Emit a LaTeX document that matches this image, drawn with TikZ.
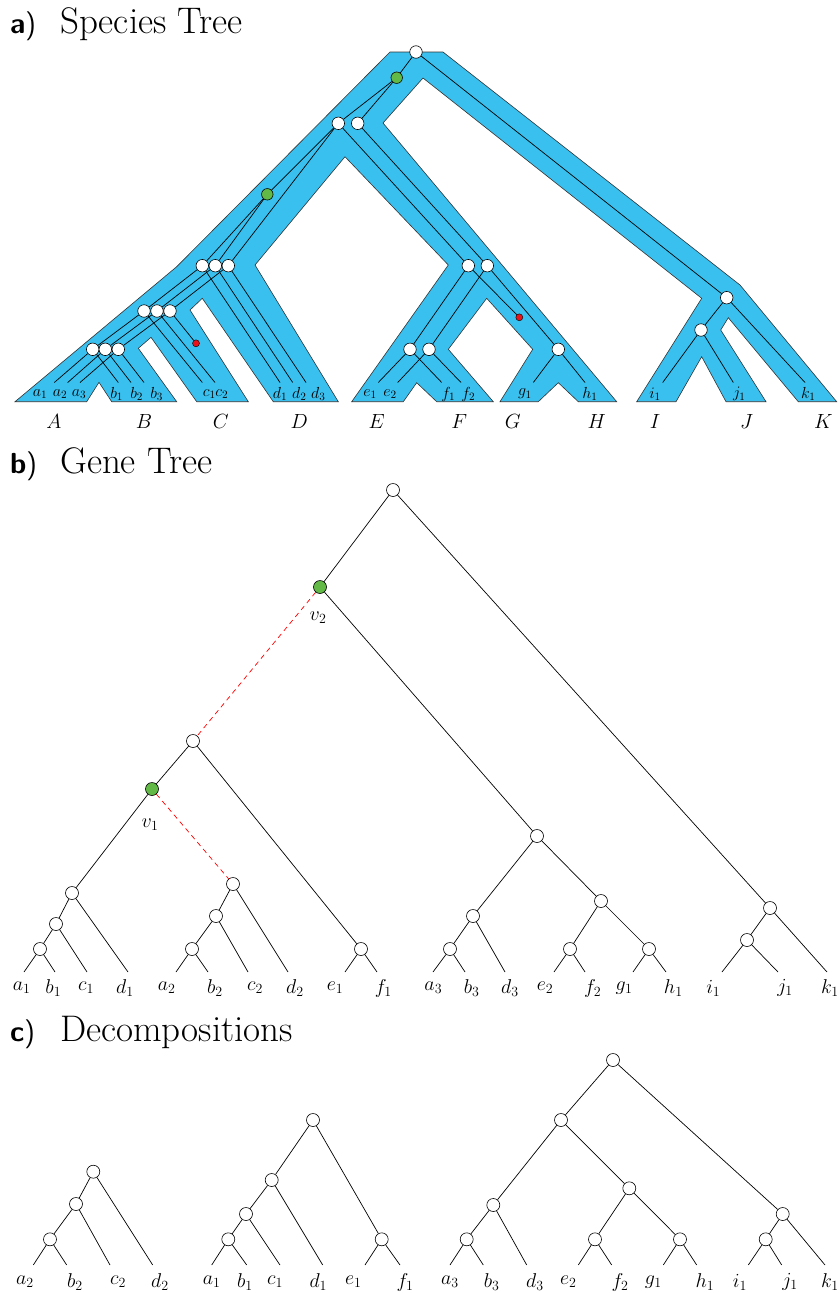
\RequirePackage{fix-cm}
\documentclass[tikz,border=0pt]{standalone}
\usepackage{tikz}
\definecolor{treeblue}{HTML}{3AC0EF}
\definecolor{dupgreen}{HTML}{62B946}
\definecolor{lossred}{HTML}{E8141B}
\tikzset{
  gnode/.style={draw, circle, fill=white, inner sep=0pt, minimum size=13pt, line width=0.6pt},
  snode/.style={gnode, minimum size=12.5pt},
  dupnode/.style={gnode, fill=dupgreen, minimum size=11.5pt},
  lossnode/.style={draw, circle, fill=lossred, inner sep=0pt, minimum size=7pt, line width=0.4pt},
  edge/.style={line width=0.7pt},
  xfer/.style={draw=red, dash pattern=on 5pt off 4pt, line width=0.7pt},
  leaf/.style={font=\fontsize{20}{24}\selectfont, inner sep=0pt},
  tip/.style={font=\fontsize{16}{19}\selectfont, inner sep=0pt},
  spec/.style={font=\fontsize{20.5}{24}\selectfont, inner sep=0pt},
  title/.style={anchor=base west, font=\fontsize{37}{44}\selectfont, inner sep=0pt},
  panel/.style={anchor=base west, font=\fontsize{29}{34}\selectfont\sffamily, inner sep=0pt}
}

\begin{document}
\begin{tikzpicture}[x=1pt, y=-1pt]
  \useasboundingbox (0,0) rectangle (838,1293);

  % titles
  \node[panel] (pa) at (10,33) {\textbf{a})};
  \node[title] (ta) at (60,33) {Species Tree};
  \node[panel] (pb) at (10,473) {\textbf{b})};
  \node[title] (tb) at (60,473) {Gene Tree};
  \node[panel] (pc) at (10,1041) {\textbf{c})};
  \node[title] (tc) at (60,1041) {Decompositions};

  % species tree tube
  \filldraw[fill=treeblue, draw=black!80, line width=0.6pt]
    (390,52) -- (443,52) -- (740,285) -- (836.7,401.7) -- (798.3,401.7) -- (728.3,317.7)
    -- (720.7,330) -- (766,401.7) -- (726,401.7) -- (701.7,356.7) -- (676,401.7)
    -- (636.7,401.7) -- (701.7,298.3) -- (423,78) -- (383,123) -- (616.7,401.7)
    -- (578.3,401.7) -- (558.3,382.7) -- (538.3,401.7) -- (500,401.7) -- (532.7,349.3)
    -- (486.7,298.3) -- (448.3,349.3) -- (493.3,401.7) -- (436.7,401.7) -- (416.7,382.7)
    -- (403.3,401.7) -- (351.7,401.7) -- (448.3,265) -- (345,156.7) -- (255,265)
    -- (338.3,401.7) -- (273.3,401.7) -- (202.3,298.3) -- (190,310) -- (248.3,401.7)
    -- (196.7,401.7) -- (151,337.3) -- (138.3,348.3) -- (176.7,401.7) -- (111.7,401.7)
    -- (99,382.3) -- (86.7,401.7) -- (15,401.7) -- (176.7,266.7) -- cycle;

  % species tree: gene nodes
  \node[snode] (sRoot) at (416,52) {};
  \node[dupnode] (sV2) at (396.7,77.7) {};
  \node[snode] (sX1) at (338.3,123.3) {};
  \node[snode] (sX2) at (357.7,123.3) {};
  \node[dupnode] (sV1) at (267.3,194.3) {};
  \node[snode] (sD1) at (202.3,265.7) {};
  \node[snode] (sD2) at (215.3,265.7) {};
  \node[snode] (sD3) at (228.3,265.7) {};
  \node[snode] (sC1) at (144,311) {};
  \node[snode] (sC2) at (157,311) {};
  \node[snode] (sC3) at (170,311) {};
  \node[snode] (sB1) at (92.7,349.3) {};
  \node[snode] (sB2) at (105.3,349.3) {};
  \node[snode] (sB3) at (118.3,349.3) {};
  \node[lossnode] (sLossC) at (196,343.3) {};
  \node[snode] (sE1) at (468.3,265.7) {};
  \node[snode] (sE2) at (487.3,265.7) {};
  \node[snode] (sF1) at (410,349.3) {};
  \node[snode] (sF2) at (429,349.3) {};
  \node[snode] (sGH) at (558.3,349.3) {};
  \node[lossnode] (sLossGH) at (519.3,317.3) {};
  \node[snode] (sK1) at (726.7,297.7) {};
  \node[snode] (sK2) at (701,330) {};

  \coordinate (sa1) at (54.3,382.5); \coordinate (sa2) at (67.7,382.5); \coordinate (sa3) at (80,382.5);
  \coordinate (sb1) at (118.3,382.5); \coordinate (sb2) at (131,382.5); \coordinate (sb3) at (144,382.5);
  \coordinate (sc1) at (202.3,382.5); \coordinate (sc2) at (215,382.5);
  \coordinate (sd1) at (280,382.5); \coordinate (sd2) at (292.7,382.5); \coordinate (sd3) at (306,382.5);
  \coordinate (se1) at (378.3,382.5); \coordinate (se2) at (397.7,382.5);
  \coordinate (sf1) at (441.7,382.5); \coordinate (sf2) at (461,382.5);
  \coordinate (sg1) at (533.3,382.5); \coordinate (sh1) at (585,382.5);
  \coordinate (si1) at (662.7,382.5); \coordinate (sj1) at (733.3,382.5); \coordinate (sk1) at (805,382.5);

  \draw[edge] (sRoot) -- (sV2);
  \draw[edge] (sRoot) -- (sK1);
  \draw[edge] (sK1) -- (sK2);
  \draw[edge] (sK1) -- (sk1);
  \draw[edge] (sK2) -- (si1);
  \draw[edge] (sK2) -- (sj1);
  \draw[edge] (sV2) -- (sX1);
  \draw[edge] (sV2) -- (sX2);
  \draw[edge] (sX1) -- (sV1);
  \draw[edge] (sX1) -- (sE1);
  \draw[edge] (sX1) -- (sD3);
  \draw[edge] (sX2) -- (sE2);
  \draw[edge] (sV1) -- (sD1);
  \draw[edge] (sV1) -- (sD2);
  \draw[edge] (sD1) -- (sC1);
  \draw[edge] (sD1) -- (sd1);
  \draw[edge] (sD2) -- (sC2);
  \draw[edge] (sD2) -- (sd2);
  \draw[edge] (sD3) -- (sC3);
  \draw[edge] (sD3) -- (sd3);
  \draw[edge] (sC1) -- (sB1);
  \draw[edge] (sC1) -- (sc1);
  \draw[edge] (sC2) -- (sB2);
  \draw[edge] (sC2) -- (sc2);
  \draw[edge] (sC3) -- (sB3);
  \draw[edge] (sC3) -- (sLossC);
  \draw[edge] (sB1) -- (sa1);
  \draw[edge] (sB1) -- (sb1);
  \draw[edge] (sB2) -- (sa2);
  \draw[edge] (sB2) -- (sb2);
  \draw[edge] (sB3) -- (sa3);
  \draw[edge] (sB3) -- (sb3);
  \draw[edge] (sE1) -- (sF1);
  \draw[edge] (sE1) -- (sLossGH);
  \draw[edge] (sE2) -- (sF2);
  \draw[edge] (sE2) -- (sGH);
  \draw[edge] (sF1) -- (se1);
  \draw[edge] (sF1) -- (sf1);
  \draw[edge] (sF2) -- (se2);
  \draw[edge] (sF2) -- (sf2);
  \draw[edge] (sGH) -- (sg1);
  \draw[edge] (sGH) -- (sh1);

  % tip labels
  \node[tip] (la1) at (40,394) {$a_1$};
  \node[tip] (la2) at (60,394) {$a_2$};
  \node[tip] (la3) at (79,394) {$a_3$};
  \node[tip] (lb1) at (116.7,394) {$b_1$};
  \node[tip] (lb2) at (136.7,394) {$b_2$};
  \node[tip] (lb3) at (156.7,394) {$b_3$};
  \node[tip] (lc1) at (209.3,394) {$c_1$};
  \node[tip] (lc2) at (221.7,394) {$c_2$};
  \node[tip] (ld1) at (280,394) {$d_1$};
  \node[tip] (ld2) at (299.3,394) {$d_2$};
  \node[tip] (ld3) at (318.3,394) {$d_3$};
  \node[tip] (le1) at (370,394) {$e_1$};
  \node[tip] (le2) at (390,394) {$e_2$};
  \node[tip] (lf1) at (448.3,394) {$f_1$};
  \node[tip] (lf2) at (468.3,394) {$f_2$};
  \node[tip] (lg1) at (525,394) {$g_1$};
  \node[tip] (lh1) at (590,394) {$h_1$};
  \node[tip] (li1) at (655,394) {$i_1$};
  \node[tip] (lj1) at (739.3,394) {$j_1$};
  \node[tip] (lk1) at (808.3,394) {$k_1$};

  % species names
  \node[spec] (spA) at (54,421.7) {$A$};
  \node[spec] (spB) at (144,421.7) {$B$};
  \node[spec] (spC) at (220.7,421.7) {$C$};
  \node[spec] (spD) at (299.3,421.7) {$D$};
  \node[spec] (spE) at (376.7,421.7) {$E$};
  \node[spec] (spF) at (459.3,421.7) {$F$};
  \node[spec] (spG) at (512.7,421.7) {$G$};
  \node[spec] (spH) at (596.7,421.7) {$H$};
  \node[spec] (spI) at (655,421.7) {$I$};
  \node[spec] (spJ) at (746.7,421.7) {$J$};
  \node[spec] (spK) at (823.3,421.7) {$K$};

  % gene tree
  \node[gnode] (gRoot) at (393,490) {};
  \node[dupnode, minimum size=13pt] (gV2) at (320,587) {};
  \node[gnode] (gN1) at (193,741) {};
  \node[dupnode, minimum size=13pt] (gV1) at (152,789) {};
  \node[gnode] (gN2) at (72,893) {};
  \node[gnode] (gN3) at (56,924) {};
  \node[gnode] (gN4) at (40,949) {};
  \node[gnode] (gN5) at (233,884) {};
  \node[gnode] (gN6) at (216,916) {};
  \node[gnode] (gN7) at (192,949) {};
  \node[gnode] (gN8) at (361,949) {};
  \node[gnode] (gN9) at (537,836) {};
  \node[gnode] (gN10) at (473,916) {};
  \node[gnode] (gN11) at (450,949) {};
  \node[gnode] (gN12) at (601,901) {};
  \node[gnode] (gN13) at (570,949) {};
  \node[gnode] (gN14) at (649,949) {};
  \node[gnode] (gN15) at (770,908) {};
  \node[gnode] (gN16) at (747,940) {};
  \node[leaf] (lv2) at (318,618) {$v_2$};
  \node[leaf] (lv1) at (150,825) {$v_1$};

  \coordinate (ga1) at (24,972); \coordinate (gb1) at (55,972); \coordinate (gc1) at (87,972); \coordinate (gd1) at (128,972);
  \coordinate (ga2) at (176,972); \coordinate (gb2) at (208,972); \coordinate (gc2) at (248,972); \coordinate (gd2) at (288,972);
  \coordinate (ge1) at (345,972); \coordinate (gf1) at (377,972);
  \coordinate (ga3) at (433,972); \coordinate (gb3) at (465,972); \coordinate (gd3) at (505,972);
  \coordinate (ge2) at (554,972); \coordinate (gf2) at (585,972); \coordinate (gg1) at (633,972); \coordinate (gh1) at (666,972);
  \coordinate (gi1) at (722,972); \coordinate (gj1) at (778,972); \coordinate (gk1) at (827,972);

  \draw[edge] (gRoot) -- (gV2);
  \draw[edge] (gRoot) -- (gN15);
  \draw[xfer] (gV2) -- (gN1);
  \draw[edge] (gV2) -- (gN9);
  \draw[edge] (gN1) -- (gV1);
  \draw[edge] (gN1) -- (gN8);
  \draw[edge] (gV1) -- (gN2);
  \draw[xfer] (gV1) -- (gN5);
  \draw[edge] (gN2) -- (gN3);
  \draw[edge] (gN2) -- (gd1);
  \draw[edge] (gN3) -- (gN4);
  \draw[edge] (gN3) -- (gc1);
  \draw[edge] (gN4) -- (ga1);
  \draw[edge] (gN4) -- (gb1);
  \draw[edge] (gN5) -- (gN6);
  \draw[edge] (gN5) -- (gd2);
  \draw[edge] (gN6) -- (gN7);
  \draw[edge] (gN6) -- (gc2);
  \draw[edge] (gN7) -- (ga2);
  \draw[edge] (gN7) -- (gb2);
  \draw[edge] (gN8) -- (ge1);
  \draw[edge] (gN8) -- (gf1);
  \draw[edge] (gN9) -- (gN10);
  \draw[edge] (gN9) -- (gN12);
  \draw[edge] (gN10) -- (gN11);
  \draw[edge] (gN10) -- (gd3);
  \draw[edge] (gN11) -- (ga3);
  \draw[edge] (gN11) -- (gb3);
  \draw[edge] (gN12) -- (gN13);
  \draw[edge] (gN12) -- (gN14);
  \draw[edge] (gN13) -- (ge2);
  \draw[edge] (gN13) -- (gf2);
  \draw[edge] (gN14) -- (gg1);
  \draw[edge] (gN14) -- (gh1);
  \draw[edge] (gN15) -- (gN16);
  \draw[edge] (gN15) -- (gk1);
  \draw[edge] (gN16) -- (gi1);
  \draw[edge] (gN16) -- (gj1);

  \node[leaf] (ma1) at (21.7,988) {$a_1$};
  \node[leaf] (mb1) at (53.3,988) {$b_1$};
  \node[leaf] (mc1) at (86,988) {$c_1$};
  \node[leaf] (md1) at (125,988) {$d_1$};
  \node[leaf] (ma2) at (166.7,988) {$a_2$};
  \node[leaf] (mb2) at (215,988) {$b_2$};
  \node[leaf] (mc2) at (255,988) {$c_2$};
  \node[leaf] (md2) at (295,988) {$d_2$};
  \node[leaf] (me1) at (335,988) {$e_1$};
  \node[leaf] (mf1) at (383.3,988) {$f_1$};
  \node[leaf] (ma3) at (433.3,988) {$a_3$};
  \node[leaf] (mb3) at (471.7,988) {$b_3$};
  \node[leaf] (md3) at (510,988) {$d_3$};
  \node[leaf] (me2) at (545,988) {$e_2$};
  \node[leaf] (mf2) at (592.7,988) {$f_2$};
  \node[leaf] (mg1) at (624,988) {$g_1$};
  \node[leaf] (mh1) at (673.3,988) {$h_1$};
  \node[leaf] (mi1) at (713.3,988) {$i_1$};
  \node[leaf] (mj1) at (785,988) {$j_1$};
  \node[leaf] (mk1) at (830,988) {$k_1$};

  % decompositions
  \node[gnode] (t1R) at (93.3,1171.7) {};
  \node[gnode] (t1A) at (76,1204) {};
  \node[gnode] (t1B) at (50,1239.3) {};
  \node[gnode] (t2R) at (313,1120) {};
  \node[gnode] (t2A) at (271.7,1180) {};
  \node[gnode] (t2B) at (246,1214) {};
  \node[gnode] (t2C) at (228.3,1239.3) {};
  \node[gnode] (t2D) at (381.7,1239.3) {};
  \node[gnode] (t3R) at (613,1060) {};
  \node[gnode] (t3A) at (561,1120) {};
  \node[gnode] (t3B) at (493.3,1205) {};
  \node[gnode] (t3C) at (466.7,1239.3) {};
  \node[gnode] (t3D) at (629.3,1188.3) {};
  \node[gnode] (t3E) at (595,1239.3) {};
  \node[gnode] (t3F) at (680,1239.3) {};
  \node[gnode] (t3G) at (782.7,1214) {};
  \node[gnode] (t3H) at (765.7,1239.3) {};

  \coordinate (ua2) at (33.3,1265); \coordinate (ub2) at (66.7,1265); \coordinate (uc2) at (110,1265); \coordinate (ud2) at (152.7,1265);
  \coordinate (ua1) at (211.7,1265); \coordinate (ub1) at (246.7,1265); \coordinate (uc1) at (280,1265); \coordinate (ud1) at (322.7,1265);
  \coordinate (ue1) at (365,1265); \coordinate (uf1) at (400,1265);
  \coordinate (ua3) at (450,1265); \coordinate (ub3) at (483.3,1265); \coordinate (ud3) at (526.7,1265);
  \coordinate (ue2) at (578.3,1265); \coordinate (uf2) at (611.7,1265); \coordinate (ug1) at (663.3,1265); \coordinate (uh1) at (696.7,1265);
  \coordinate (ui1) at (748.3,1265); \coordinate (uj1) at (781.7,1265); \coordinate (uk1) at (825,1265);

  \draw[edge] (t1R) -- (t1A);
  \draw[edge] (t1R) -- (ud2);
  \draw[edge] (t1A) -- (t1B);
  \draw[edge] (t1A) -- (uc2);
  \draw[edge] (t1B) -- (ua2);
  \draw[edge] (t1B) -- (ub2);
  \draw[edge] (t2R) -- (t2A);
  \draw[edge] (t2R) -- (t2D);
  \draw[edge] (t2A) -- (t2B);
  \draw[edge] (t2A) -- (ud1);
  \draw[edge] (t2B) -- (t2C);
  \draw[edge] (t2B) -- (uc1);
  \draw[edge] (t2C) -- (ua1);
  \draw[edge] (t2C) -- (ub1);
  \draw[edge] (t2D) -- (ue1);
  \draw[edge] (t2D) -- (uf1);
  \draw[edge] (t3R) -- (t3A);
  \draw[edge] (t3R) -- (t3G);
  \draw[edge] (t3A) -- (t3B);
  \draw[edge] (t3A) -- (t3D);
  \draw[edge] (t3B) -- (t3C);
  \draw[edge] (t3B) -- (ud3);
  \draw[edge] (t3C) -- (ua3);
  \draw[edge] (t3C) -- (ub3);
  \draw[edge] (t3D) -- (t3E);
  \draw[edge] (t3D) -- (t3F);
  \draw[edge] (t3E) -- (ue2);
  \draw[edge] (t3E) -- (uf2);
  \draw[edge] (t3F) -- (ug1);
  \draw[edge] (t3F) -- (uh1);
  \draw[edge] (t3G) -- (t3H);
  \draw[edge] (t3G) -- (uk1);
  \draw[edge] (t3H) -- (ui1);
  \draw[edge] (t3H) -- (uj1);

  \node[leaf] (na2) at (25,1282) {$a_2$};
  \node[leaf] (nb2) at (75,1282) {$b_2$};
  \node[leaf] (nc2) at (118,1282) {$c_2$};
  \node[leaf] (nd2) at (160,1282) {$d_2$};
  \node[leaf] (na1) at (211.7,1282) {$a_1$};
  \node[leaf] (nb1) at (245,1282) {$b_1$};
  \node[leaf] (nc1) at (275,1282) {$c_1$};
  \node[leaf] (nd1) at (318.3,1282) {$d_1$};
  \node[leaf] (ne1) at (353.3,1282) {$e_1$};
  \node[leaf] (nf1) at (405,1282) {$f_1$};
  \node[leaf] (na3) at (450,1282) {$a_3$};
  \node[leaf] (nb3) at (491.7,1282) {$b_3$};
  \node[leaf] (nd3) at (535,1282) {$d_3$};
  \node[leaf] (ne2) at (568.3,1282) {$e_2$};
  \node[leaf] (nf2) at (620,1282) {$f_2$};
  \node[leaf] (ng1) at (653.3,1282) {$g_1$};
  \node[leaf] (nh1) at (705,1282) {$h_1$};
  \node[leaf] (ni1) at (740,1282) {$i_1$};
  \node[leaf] (nj1) at (790,1282) {$j_1$};
  \node[leaf] (nk1) at (830,1282) {$k_1$};
\end{tikzpicture}
\end{document}
